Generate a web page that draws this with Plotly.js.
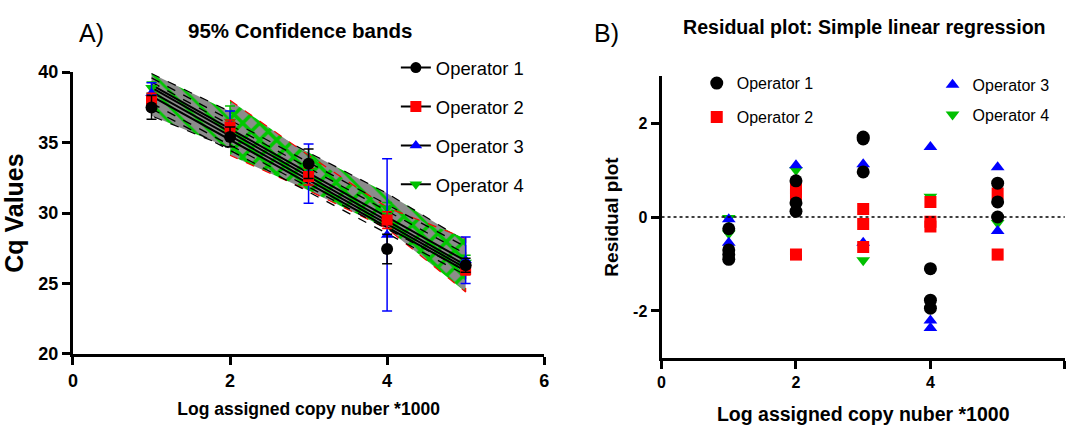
<!DOCTYPE html>
<html><head><meta charset="utf-8">
<script src="https://cdn.plot.ly/plotly-3.0.1.min.js"></script>
<style>html,body{margin:0;padding:0;background:#fff}#c{width:1067px;height:427px}</style>
</head><body><div id="c"></div>
<script>
// ---------- Data: panel A ----------
const doses = [1, 2, 3, 4, 5];
const op1Mean = [37.5, 35.4, 33.5, 27.45, 26.3];
const op1Err  = [0.85, 0.7, 1.05, 1.05, 0.5];
const op2Mean = [38.0, 36.1, 32.6, 29.5, 26.0];
const op2Err  = [0.5, 0.5, 0.6, 0.6, 0.4];
const op3Mean = [38.5, 36.3, 32.8, 28.45, 26.65];
const op3Err  = [0.75, 0.95, 2.1, 5.4, 1.65];
const op4Mean = [38.9, 36.5, 33.0, 30.35, 26.5];
const op4Err  = [0.4, 1.1, 0.5, 0.4, 0.5];

// regression lines (value at x=1 and x=5)
const fitX = [1, 5];
const fit1 = [38.9, 26.3];
const fit2 = [38.6, 26.1];
const fit3 = [38.3, 25.9];
const fit4 = [39.1, 26.6];

// confidence bands
const bandAX = [1, 2, 3, 4, 5];
const bandAUp = [39.9, 37.2, 34.3, 31.4, 28.0];
const bandALo = [36.9, 34.6, 32.0, 29.0, 25.3];
const bandBX = [2, 3, 4, 5];
const bandBUp = [38.0, 34.1, 30.4, 28.2];
const bandBLo = [34.1, 31.6, 28.9, 24.4];
// inner dashed CI lines
const dashA1 = [39.6, 27.6];
const dashA2 = [37.4, 25.6];
const dashA3 = [39.3, 27.1];
const dashA4 = [37.8, 25.9];

// ---------- Data: panel B (residuals) ----------
const r1x = [1,1,1,1, 2,2,2, 3,3,3, 4,4,4, 5,5,5];
const r1y = [-0.25,-0.7,-0.8,-0.9, 0.77,0.3,0.12, 1.7,1.66,0.96, -1.1,-1.77,-1.94, 0.72,0.32,0.0];
const r2x = [2,2,2, 3,3,3, 4,4,4, 5,5];
const r2y = [0.6,0.48,-0.8, 0.17,-0.15,-0.64, 0.32,-0.1,-0.2, 0.5,-0.8];
const r3x = [1,1, 2, 3,3, 4,4,4, 5,5];
const r3y = [-0.05,-0.55, 1.1, 1.12,-0.55, 1.49,-2.2,-2.36, 1.06,-0.3];
const r4x = [1,1, 2, 3, 4, 5];
const r4y = [-0.02,-0.35, 1.0, -0.92, 0.43, -0.13];

const ops = ['Operator 1','Operator 2','Operator 3','Operator 4'];
const colors = ['#000000','#ff0000','#0000ff','#00c000'];
const syms = ['circle','square','triangle-up','triangle-down'];

const FONT = 'Liberation Sans, Arial, sans-serif';

const traces = [];
// band A
traces.push({x: bandAX.concat(bandAX.slice().reverse()), y: bandAUp.concat(bandALo.slice().reverse()),
  type:'scatter', mode:'lines', fill:'toself', line:{color:'#000', width:1.2, dash:'dash'},
  fillcolor:'#8a8a8a', fillpattern:{shape:'\\', fgcolor:'#00c800', bgcolor:'#8c8c8c', size:11, solidity:0.25},
  showlegend:false, hoverinfo:'skip', xaxis:'x', yaxis:'y'});
// band B
traces.push({x: bandBX.concat(bandBX.slice().reverse()), y: bandBUp.concat(bandBLo.slice().reverse()),
  type:'scatter', mode:'lines', fill:'toself', line:{color:'#ff0000', width:1.2, dash:'dash'},
  fillcolor:'#8a8a8a', fillpattern:{shape:'x', fgcolor:'#00c800', bgcolor:'#8c8c8c', size:12, solidity:0.5},
  showlegend:false, hoverinfo:'skip', xaxis:'x', yaxis:'y'});
// dashed inner lines
[dashA1, dashA2, dashA3, dashA4].forEach(d => traces.push({x: fitX, y: d, type:'scatter', mode:'lines',
  line:{color:'#000', width:1.3, dash:'dash'}, showlegend:false, hoverinfo:'skip', xaxis:'x', yaxis:'y'}));
// fit lines
[fit1, fit2, fit3, fit4].forEach(f => traces.push({x: fitX, y: f, type:'scatter', mode:'lines',
  line:{color:'#000', width:2}, showlegend:false, hoverinfo:'skip', xaxis:'x', yaxis:'y'}));
// data with error bars
const means = [op1Mean, op2Mean, op3Mean, op4Mean];
const errs = [op1Err, op2Err, op3Err, op4Err];
[3,2,1,0].forEach(i => traces.push({x: doses, y: means[i], type:'scatter', mode:'markers',
  marker:{color: colors[i], symbol: syms[i], size: i===0?12:11},
  error_y:{type:'data', array: errs[i], visible:true, color: colors[i], thickness:1.5, width:5},
  showlegend:false, xaxis:'x', yaxis:'y'}));
// legend entries panel A
for (let i=0;i<4;i++) traces.push({x:[null], y:[null], type:'scatter', mode:'lines+markers', name: ops[i],
  line:{color:'#000', width:2}, marker:{color: colors[i], symbol: syms[i], size:11},
  legend:'legend', legendgroup:'a'+i, legendrank: i+1, xaxis:'x', yaxis:'y'});

// panel B
const rx = [r1x, r2x, r3x, r4x], ry = [r1y, r2y, r3y, r4y];
[3,2,1,0].forEach(i => traces.push({x: rx[i], y: ry[i], type:'scatter', mode:'markers', name: ops[i],
  marker:{color: colors[i], symbol: syms[i], size: i===0?13:12},
  legend: i<2 ? 'legend2' : 'legend3', legendgroup:'b'+i, legendrank: i+1, xaxis:'x2', yaxis:'y2'}));

const tickA = {family: FONT, size:18, color:'#000', weight:'bold'};
const tickB = {family: FONT, size:16, color:'#000', weight:'bold'};
const baseAxis = {showgrid:false, zeroline:false, showline:true, linecolor:'#000', linewidth:3,
  ticks:'outside', ticklen:8, tickwidth:3, tickcolor:'#000'};

const layout = {
  width:1067, height:427, margin:{l:0,r:0,t:0,b:0}, paper_bgcolor:'#fff', plot_bgcolor:'#fff',
  font:{family: FONT, color:'#000'},
  xaxis: Object.assign({}, baseAxis, {domain:[0.0684, 0.51], range:[0,6], tickvals:[0,2,4,6], anchor:'y', tickfont: tickA,
    title:{text:'Log assigned copy nuber *1000', font:{family: FONT, size:17.5, weight:'bold'}, standoff:14}}),
  yaxis: Object.assign({}, baseAxis, {domain:[0.171, 0.831], range:[20,40], tickvals:[20,25,30,35,40], anchor:'x', tickfont: tickA,
    title:{text:'Cq Values', font:{family: FONT, size:25, weight:'bold'}, standoff:8}}),
  xaxis2: Object.assign({}, baseAxis, {domain:[0.620, 0.998], range:[0,6], tickvals:[0,2,4,6], anchor:'y2', tickfont: tickB,
    title:{text:'Log assigned copy nuber *1000', font:{family: FONT, size:19.5, weight:'bold'}, standoff:18}}),
  yaxis2: Object.assign({}, baseAxis, {domain:[0.1616, 0.822], range:[-3,3], tickvals:[-2,0,2], ticktext:['-2','0','2'], anchor:'x2', tickfont: tickB,
    title:{text:'Residual plot', font:{family: FONT, size:19, weight:'bold'}, standoff:10}}),
  shapes:[{type:'line', xref:'x2', yref:'y2', x0:0, x1:6, y0:0, y1:0, line:{color:'#000', width:1.5, dash:'dot'}}],
  legend:{x:0.371, y:0.885, xanchor:'left', yanchor:'top', font:{family: FONT, size:18.4}, tracegroupgap:12, itemwidth:30, traceorder:'grouped', bgcolor:'rgba(0,0,0,0)'},
  legend2:{x:0.653, y:0.845, xanchor:'left', yanchor:'top', font:{family: FONT, size:16}, tracegroupgap:10, itemwidth:30, traceorder:'grouped', bgcolor:'rgba(0,0,0,0)'},
  legend3:{x:0.874, y:0.841, xanchor:'left', yanchor:'top', font:{family: FONT, size:16}, tracegroupgap:6, itemwidth:30, traceorder:'grouped', bgcolor:'rgba(0,0,0,0)'},
  annotations:[
    {text:'95% Confidence bands', xref:'paper', yref:'paper', x:0.281, y:0.928, xanchor:'center', yanchor:'middle', showarrow:false, font:{family: FONT, size:20.5, weight:'bold'}},
    {text:'Residual plot: Simple linear regression', xref:'paper', yref:'paper', x:0.81, y:0.937, xanchor:'center', yanchor:'middle', showarrow:false, font:{family: FONT, size:19.6, weight:'bold'}},
    {text:'A)', xref:'paper', yref:'paper', x:0.086, y:0.922, xanchor:'center', yanchor:'middle', showarrow:false, font:{family: FONT, size:25}},
    {text:'B)', xref:'paper', yref:'paper', x:0.568, y:0.922, xanchor:'center', yanchor:'middle', showarrow:false, font:{family: FONT, size:25}}
  ]
};
Plotly.newPlot('c', traces, layout, {displayModeBar:false, staticPlot:true});
</script></body></html>
